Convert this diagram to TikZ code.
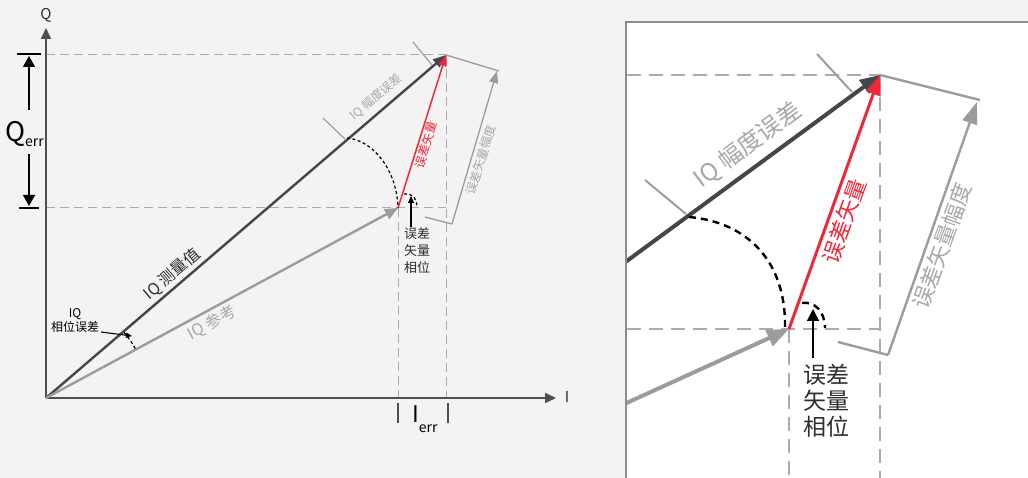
\documentclass[tikz,border=0pt]{standalone}
\usepackage{fontspec}
\setmainfont{Noto Sans CJK SC}
\usetikzlibrary{arrows.meta,calc}
\definecolor{bgc}{HTML}{F3F3F3}
\definecolor{axisc}{HTML}{4B5056}
\definecolor{measc}{HTML}{42474C}
\definecolor{refc}{HTML}{9A9C9D}
\definecolor{redc}{HTML}{ED2939}
\definecolor{guidec}{HTML}{ABABAB}
\definecolor{tickc}{HTML}{9D9D9D}
\definecolor{lblgray}{HTML}{A8A8A8}
\definecolor{txtc}{HTML}{2E2E2E}
\definecolor{framec}{HTML}{8C8C8C}
\newcommand\fsz[2]{\fontsize{#1}{#2}\selectfont}
\begin{document}
\begin{tikzpicture}[x=1pt,y=-1pt,
  axisline/.style={draw=axisc, line width=1.8pt, -{Triangle[length=11pt,width=10pt]}},
  guideL/.style={draw=guidec, line width=1pt, dash pattern=on 9pt off 5pt},
  guideR/.style={draw=guidec, line width=1.4pt, dash pattern=on 14pt off 8pt},
  measL/.style={draw=measc, line width=2.4pt, -{Triangle[length=13pt,width=10pt]}},
  refL/.style={draw=refc, line width=2.4pt, -{Triangle[length=13pt,width=11pt]}},
  redL/.style={draw=redc, line width=1.5pt, -{Triangle[length=11pt,width=8pt]}},
  dimL/.style={draw=refc, line width=1.3pt},
  tickL/.style={draw=tickc, line width=1.2pt},
  arcL/.style={draw=black, line width=1.2pt, dash pattern=on 3pt off 2.5pt},
  measR/.style={draw=measc, line width=4pt, -{Triangle[length=20pt,width=16pt]}},
  refR/.style={draw=refc, line width=4pt, -{Triangle[length=22pt,width=17pt]}},
  redR/.style={draw=redc, line width=3pt, -{Triangle[length=20pt,width=15pt]}},
  dimR/.style={draw=refc, line width=2.4pt},
  tickR/.style={draw=tickc, line width=2pt},
  arcR/.style={draw=black, line width=2.4pt, dash pattern=on 7pt off 5pt},
  pointer/.style={draw=black, line width=1.1pt},
  lbl/.style={inner sep=0pt, text=txtc},
]
\useasboundingbox (0,0) rectangle (1028,478);
\fill[bgc] (0,0) rectangle (1028,478);

% ---------------- left diagram ----------------
\coordinate (O) at (46,398);
\coordinate (Qend) at (46,28);
\coordinate (Iend) at (556,398);
\coordinate (M) at (446,55);
\coordinate (R) at (398,208);
\coordinate (QtopL) at (46,55);
\coordinate (QbotL) at (46,208);

% guides
\draw[guideL] (QtopL) -- (M);
\draw[guideL] (QbotL) -- (M |- R);
\draw[guideL] (R) -- (R |- O);
\draw[guideL] (M) -- (M |- O);

% axes
\draw[axisline] (O) -- (Qend);
\draw[axisline] (O) -- (Iend);
\node[lbl, font=\fsz{15}{15}] (qlab) at (46,15) {Q};
\node[lbl, font=\fsz{15}{15}] (ilab) at (567,397) {I};

% Q_err
\coordinate (qt1) at (17,54); \coordinate (qt2) at (41,54);
\coordinate (qb1) at (19,208); \coordinate (qb2) at (39,208);
\draw[draw=black, line width=1.3pt] (qt1) -- (qt2);
\draw[draw=black, line width=1.3pt] (qb1) -- (qb2);
\coordinate (qa1) at (29,110); \coordinate (qa2) at (29,56);
\coordinate (qa3) at (29,154); \coordinate (qa4) at (29,206);
\draw[draw=black, line width=1.2pt, -{Triangle[length=11pt,width=12pt]}] (qa1) -- (qa2);
\draw[draw=black, line width=1.2pt, -{Triangle[length=11pt,width=12pt]}] (qa3) -- (qa4);
\node[lbl, anchor=base west, text=black] (qerr) at (5,142) {\fsz{27}{27}Q\raisebox{-5pt}{\fsz{14}{14}err}};

% I_err
\coordinate (it1) at (398,403); \coordinate (it2) at (398,423);
\coordinate (it3) at (448,403); \coordinate (it4) at (448,423);
\draw[draw=axisc, line width=1.5pt] (it1) -- (it2);
\draw[draw=axisc, line width=1.5pt] (it3) -- (it4);
\node[lbl, anchor=base west, text=black] (ierr) at (412,422) {\fsz{23}{23}I\raisebox{-10pt}{\fsz{14}{14}err}};

% vectors
\draw[measL] (O) -- (M);
\draw[refL] (O) -- (R);
\draw[redL] (R) -- (M);

% IQ phase error
\draw[arcL] plot[domain=29:40, samples=12] ({46+102*cos(\x)},{398-102*sin(\x)});
\node[lbl, align=center, text=black, font=\fsz{12}{14}] (phl) at (75,321) {IQ\\相位误差};
\coordinate (pha) at (101,332); \coordinate (phb) at (132,336);
\draw[pointer, -{Triangle[length=6pt,width=5pt]}] (pha) -- (phb);

% IQ amplitude error ticks and arc
\coordinate (ta1) at (323,118); \coordinate (ta2) at (345,139);
\coordinate (tb1) at (413,42); \coordinate (tb2) at (432,65);
\draw[tickL] (ta1) -- (ta2);
\draw[tickL] (tb1) -- (tb2);
\coordinate (arcS) at (347,138);
\draw[arcL] (arcS) .. controls (373,140) and (397,170) .. (R);

% error vector phase
\coordinate (sa1) at (404,194); \coordinate (sa2) at (417,207);
\draw[arcL] (sa1) .. controls (413,193) and (417,199) .. (sa2);
\coordinate (pa1) at (411,227); \coordinate (pa2) at (411,196);
\draw[pointer, -{Triangle[length=7pt,width=6pt]}] (pa1) -- (pa2);
\node[lbl, align=center, font=\fsz{13}{17}] (evpL) at (417,251) {误差\\矢量\\相位};

% error vector magnitude dimension
\coordinate (D1) at (452,224); \coordinate (D2) at (497,71);
\coordinate (E1) at (425,217); \coordinate (E2) at (499,71);
\draw[dimL] (M) -- (E2);
\draw[dimL] (E1) -- (D1);
\draw[dimL, -{Triangle[length=12pt,width=9pt]}] (D1) -- (D2);

% labels along vectors
\node[lbl, rotate=40.6, font=\fsz{16}{16}] (mlab) at (172,274) {IQ 测量值};
\node[lbl, rotate=28.4, text=lblgray, font=\fsz{16}{16}] (rlab) at (212,323) {IQ 参考};
\node[lbl, rotate=40.6, text=lblgray, font=\fsz{12}{12}] (alabL) at (376,97) {IQ 幅度误差};
\node[lbl, rotate=72.6, text=redc, font=\fsz{12}{12}] (elabL) at (426,145) {误差矢量};
\node[lbl, rotate=72.6, text=lblgray, font=\fsz{12}{12}] (glabL) at (481,160) {误差矢量幅度};

% ---------------- right panel ----------------
\fill[white] (626,22) rectangle (1028,478);
\begin{scope}
\clip (627,23) rectangle (1028,478);
\coordinate (PM) at (880,75);
\coordinate (PR) at (789,329);
\coordinate (PML) at (620,266);
\coordinate (PRL) at (620,406);
\coordinate (hl1) at (627,75);
\coordinate (hl2) at (627,329);

\draw[guideR] (hl1) -- (PM);
\draw[guideR] (hl2) -- (PM |- PR);
\draw[guideR] (PM) -- (PM |- 0,478);
\draw[guideR] (PR) -- (PR |- 0,478);

\coordinate (rta1) at (645,180); \coordinate (rta2) at (686,214);
\coordinate (rtb1) at (817,54); \coordinate (rtb2) at (852,92);
\draw[tickR] (rta1) -- (rta2);
\draw[tickR] (rtb1) -- (rtb2);

\draw[measR] (PML) -- (PM);
\draw[refR] (PRL) -- (PR);
\draw[redR] (PR) -- (PM);

\coordinate (rarcS) at (689,217);
\draw[arcR] (rarcS) .. controls (746,222) and (786,260) .. (785,327);

\coordinate (rsa1) at (802,303); \coordinate (rsa2) at (825,328);
\draw[arcR] (rsa1) .. controls (815,301) and (825,312) .. (rsa2);
\coordinate (rpa1) at (813,358); \coordinate (rpa2) at (813,309);
\draw[pointer, line width=1.5pt, -{Triangle[length=12pt,width=12pt]}] (rpa1) -- (rpa2);
\node[lbl, align=center, font=\fsz{23}{26}] (evpR) at (826,401) {误差\\矢量\\相位};

\coordinate (G1) at (888,355); \coordinate (G2) at (977,102);
\coordinate (GE1) at (838,342); \coordinate (GE2) at (980,100);
\draw[dimR] (PM) -- (GE2);
\draw[dimR] (GE1) -- (G1);
\draw[dimR, -{Triangle[length=22pt,width=15pt]}] (G1) -- (G2);

\node[lbl, rotate=36.5, text=lblgray, font=\fsz{24}{24}] (alabR) at (748,145) {IQ 幅度误差};
\node[lbl, rotate=70.3, text=redc, font=\fsz{22}{22}] (elabR) at (844,221) {误差矢量};
\node[lbl, rotate=70.3, text=lblgray, font=\fsz{22}{22}] (glabR) at (942,246) {误差矢量幅度};
\end{scope}
\draw[draw=framec, line width=2pt] (626,478) -- (626,22) -- (1028,22);
\end{tikzpicture}
\end{document}
